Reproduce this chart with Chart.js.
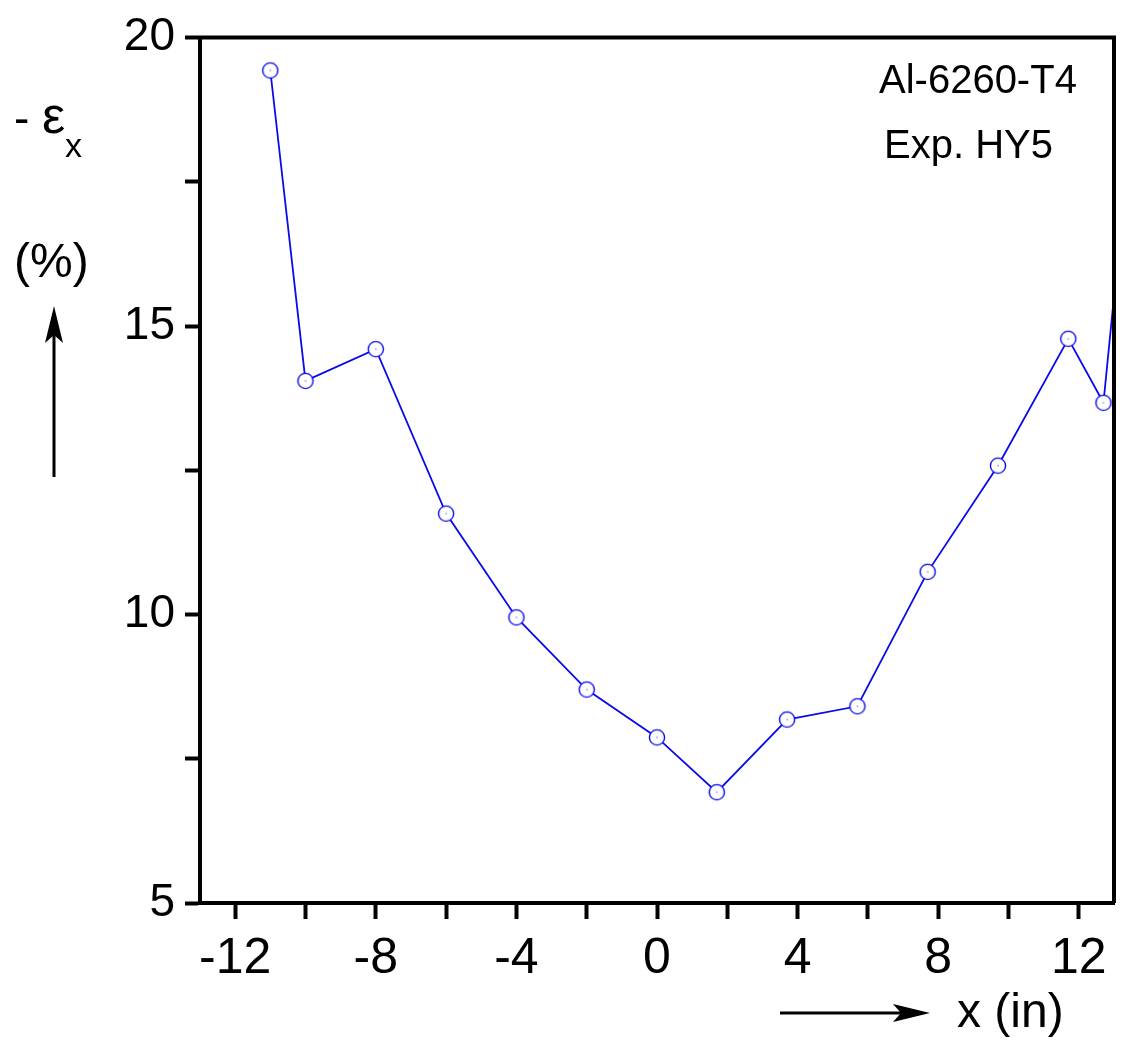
<!DOCTYPE html>
<html>
    <head>
        <title>Strain profile</title>
        <script src="https://cdn.jsdelivr.net/npm/chart.js@4.4.1/dist/chart.umd.min.js"></script>
        <style>
            body { margin: 0; background: #fff; }
            #wrap { width: 1122px; height: 1047px; }
        </style>
    </head>
    <body>
        <div id="wrap"><canvas id="chart"></canvas></div>
        <script>
        // values
        const xPos = [-11, -10, -8, -6, -4, -2, 0, 1.7, 3.7, 5.7, 7.7, 9.7, 11.7, 12.7, 13.7];
        const strain = [19.43, 14.05, 14.6, 11.75, 9.95, 8.7, 7.87, 6.92, 8.18, 8.41, 10.74, 12.58, 14.78, 13.67, 19.8];
        const xTicks = [-12, -10, -8, -6, -4, -2, 0, 2, 4, 6, 8, 10, 12];
        const yTicks = [5, 7.5, 10, 12.5, 15, 17.5, 20];

        const BLUE = 'rgb(10, 10, 235)';
        const FONT = 'Liberation Sans, Arial, sans-serif';

        // open circle with a dot in the middle
        function makeMarker() {
            const c = document.createElement('canvas');
            c.width = 20; c.height = 20;
            const g = c.getContext('2d');
            g.fillStyle = '#fff';
            g.strokeStyle = BLUE;
            g.lineWidth = 1.4;
            g.beginPath();
            g.arc(10, 10, 7.6, 0, Math.PI * 2);
            g.fill();
            g.stroke();
            g.fillStyle = BLUE;
            g.fillRect(9.5, 9.5, 1, 1);
            return c;
        }

        const decorations = {
            id: 'decorations',
            afterDraw(chart) {
                const ctx = chart.ctx;
                const a = chart.chartArea;
                ctx.save();
                // frame top and right
                ctx.strokeStyle = '#000';
                ctx.lineWidth = 4;
                ctx.beginPath();
                ctx.moveTo(a.left - 2, a.top);
                ctx.lineTo(a.right, a.top);
                ctx.lineTo(a.right, a.bottom);
                ctx.stroke();

                ctx.fillStyle = '#000';
                ctx.textBaseline = 'alphabetic';
                ctx.font = '40px ' + FONT;
                ctx.fillText('Al-6260-T4', 879, 93);
                ctx.fillText('Exp. HY5', 884, 158);

                // y axis title
                ctx.font = '46px ' + FONT;
                ctx.fillText('-', 14, 134);
                ctx.font = '52px ' + FONT;
                ctx.fillText('\u03b5', 42, 133);
                ctx.font = '34px ' + FONT;
                ctx.fillText('x', 65, 157);
                ctx.font = '48px ' + FONT;
                ctx.fillText('(%)', 14, 277);

                // x axis title
                ctx.font = '48px ' + FONT;
                ctx.fillText('x (in)', 957, 1027);

                // arrows
                ctx.lineWidth = 3;
                ctx.beginPath();
                ctx.moveTo(54, 477);
                ctx.lineTo(54, 330);
                ctx.moveTo(780, 1013);
                ctx.lineTo(905, 1013);
                ctx.stroke();
                ctx.beginPath();
                ctx.moveTo(54, 306);
                ctx.lineTo(63, 343);
                ctx.lineTo(54, 335);
                ctx.lineTo(45, 343);
                ctx.closePath();
                ctx.fill();
                ctx.beginPath();
                ctx.moveTo(930, 1013);
                ctx.lineTo(893, 1004);
                ctx.lineTo(901, 1013);
                ctx.lineTo(893, 1022);
                ctx.closePath();
                ctx.fill();
                ctx.restore();
            }
        };

        new Chart(document.getElementById('chart'), {
            type: 'line',
            data: {
                datasets: [{
                    data: xPos.map((x, i) => ({ x: x, y: strain[i] })),
                    borderColor: BLUE,
                    borderWidth: 1.8,
                    pointStyle: makeMarker(),
                    tension: 0
                }]
            },
            options: {
                responsive: true,
                maintainAspectRatio: false,
                animation: false,
                layout: { padding: { top: 36, right: 8, left: 0, bottom: 0 } },
                plugins: { legend: { display: false }, tooltip: { enabled: false } },
                scales: {
                    x: {
                        type: 'linear',
                        min: -13,
                        max: 13,
                        afterBuildTicks: s => { s.ticks = xTicks.map(v => ({ value: v })); },
                        afterFit: s => { s.height = 144; },
                        border: { display: true, color: '#000', width: 4 },
                        grid: { drawOnChartArea: false, drawTicks: true, tickLength: 16, tickWidth: 4, tickColor: '#000' },
                        ticks: {
                            autoSkip: false,
                            maxRotation: 0,
                            padding: 10,
                            color: '#000',
                            font: { family: FONT, size: 50 },
                            callback: v => (v % 4 === 0 ? String(v) : '')
                        }
                    },
                    y: {
                        type: 'linear',
                        min: 5,
                        max: 20,
                        afterBuildTicks: s => { s.ticks = yTicks.map(v => ({ value: v })); },
                        afterFit: s => { s.width = 200; },
                        border: { display: true, color: '#000', width: 4 },
                        grid: { drawOnChartArea: false, drawTicks: true, tickLength: 15, tickWidth: 4, tickColor: '#000' },
                        ticks: {
                            autoSkip: false,
                            padding: 10,
                            color: '#000',
                            font: { family: FONT, size: 46 },
                            callback: v => (v % 5 === 0 ? String(v) : '')
                        }
                    }
                }
            },
            plugins: [decorations]
        });
        </script>
    </body>
</html>
